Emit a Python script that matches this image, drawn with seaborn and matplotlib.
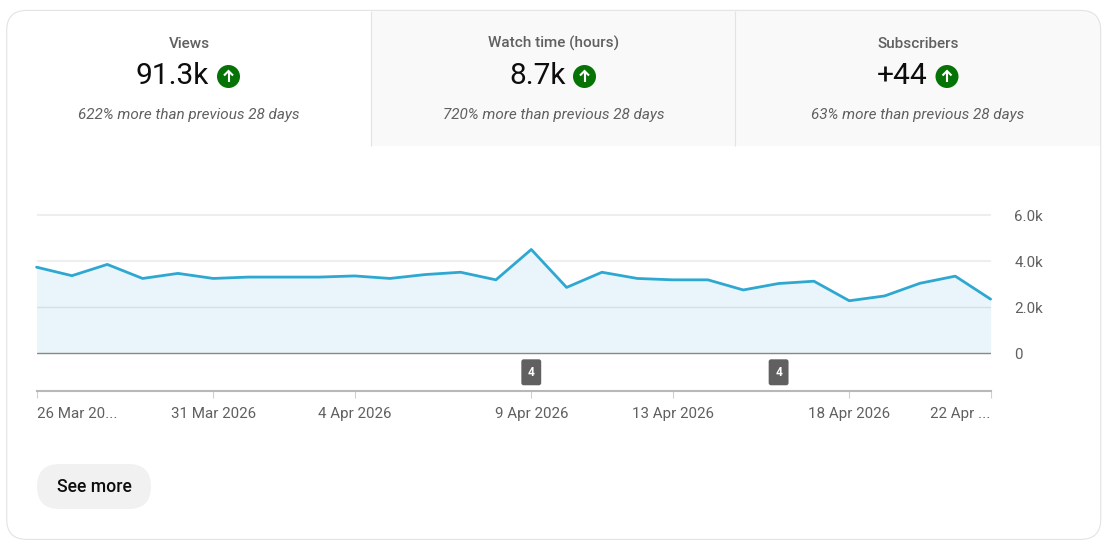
import matplotlib
matplotlib.use("Agg")
import matplotlib.pyplot as plt
import matplotlib.dates as mdates
from matplotlib.patches import FancyBboxPatch, Rectangle, Circle
import pandas as pd
import seaborn as sns

# ---- data ----
dates = pd.date_range("2026-03-26", "2026-04-22", freq="D")
views = [3740, 3370, 3860, 3250, 3470, 3250, 3310, 3310, 3310, 3360, 3250, 3420, 3520, 3190,
         4510, 2860, 3520, 3250, 3190, 3190, 2750, 3030, 3130, 2280, 2490, 3040, 3350, 2350]
tick_dates = ["2026-03-26", "2026-03-31", "2026-04-04", "2026-04-09", "2026-04-13", "2026-04-18", "2026-04-22"]
tick_labels = ["26 Mar 20...", "31 Mar 2026", "4 Apr 2026", "9 Apr 2026", "13 Apr 2026", "18 Apr 2026", "22 Apr ..."]
y_ticks = [0, 2000, 4000, 6000]
y_labels = ["0", "2.0k", "4.0k", "6.0k"]
event_dates = ["2026-04-09", "2026-04-16"]
event_counts = ["4", "4"]
metric_names = ["Views", "Watch time (hours)", "Subscribers"]
metric_values = ["91.3k", "8.7k", "+44"]
metric_notes = ["622% more than previous 28 days", "720% more than previous 28 days", "63% more than previous 28 days"]

sns.set_theme(style="white")
plt.rcParams["font.family"] = ["Roboto", "DejaVu Sans"]

W, H = 1115, 547
fig = plt.figure(figsize=(W / 100, H / 100), dpi=100, facecolor="white")

# ---- page chrome in pixel coordinates ----
bg = fig.add_axes([0, 0, 1, 1], zorder=0)
bg.set_xlim(0, W)
bg.set_ylim(H, 0)
bg.axis("off")
box = dict(boxstyle="round,pad=0,rounding_size=20")
white = FancyBboxPatch((6.7, 10.4), 1094, 529, fc="white", ec="none", zorder=1, **box)
bg.add_patch(white)
tab = Rectangle((371, 10), 730, 136, fc="#f9f9f9", ec="none", zorder=2)
bg.add_patch(tab)
tab.set_clip_path(white)
bg.add_patch(FancyBboxPatch((6.7, 10.4), 1094, 529, fc="none", ec="#e3e3e3", lw=0.8, zorder=3, **box))
for x in (370.6, 734.6):
    bg.plot([x, x], [11, 146], color="#e3e3e3", lw=0.8, zorder=3, solid_capstyle="butt")

# metric tabs
centers = [189, 553.5, 918]
icons = [228.5, 584.5, 947]
val_x = [172.5, 537.5, 902]
for name, val, note, cx, ix, vx in zip(metric_names, metric_values, metric_notes, centers, icons, val_x):
    bg.text(cx, 43.5, name, ha="center", va="center", fontsize=11, fontweight="medium",
            color="#606060", zorder=4)
    bg.text(vx, 76.5, val, ha="center", va="center", fontsize=21.5, color="#0d0d0d", zorder=4)
    bg.text(cx, 114.5, note, ha="center", va="center", fontsize=11, style="italic",
            color="#606060", zorder=4)
    bg.add_patch(Circle((ix, 76.5), 11.5, fc="#067306", ec="none", zorder=4))
    bg.plot([ix, ix], [82, 71.5], color="white", lw=1.5, zorder=5, solid_capstyle="butt")
    bg.plot([ix - 4.5, ix, ix + 4.5], [75.5, 71, 75.5], color="white", lw=1.5, zorder=5,
            solid_joinstyle="miter", solid_capstyle="butt")

# button
bg.add_patch(FancyBboxPatch((37, 464), 114, 45, boxstyle="round,pad=0,rounding_size=22.5",
                            fc="#f1f1f1", ec="none", zorder=4))
bg.text(94.5, 487.5, "See more", ha="center", va="center", fontsize=12.7, fontweight="medium",
        color="#0d0d0d", zorder=5)

# ---- chart ----
x0, x1, ytop, ybot = 36.6, 990.6, 210, 391
zero_px = 353.2
ax = fig.add_axes([x0 / W, 1 - ybot / H, (x1 - x0) / W, (ybot - ytop) / H], zorder=2)
ax.patch.set_alpha(0)
px_per_k = 23.0
ax.set_ylim(-(ybot - zero_px) / px_per_k * 1000, (zero_px - ytop) / px_per_k * 1000)
ax.set_xlim(dates[0], dates[-1])

for v in y_ticks[1:]:
    ax.axhline(v, color="#eeeeee", lw=1.5, zorder=1)
ax.axhline(2000, color="#d5e0e6", lw=1.0, zorder=3)
ax.axhline(0, color="#85898c", lw=1.0, zorder=4)

df = pd.DataFrame({"date": dates, "views": views})
ax.fill_between(df["date"], df["views"], 0, color="#e9f5fa", lw=0, zorder=2)
sns.lineplot(data=df, x="date", y="views", ax=ax, color="#2ea8d1", lw=2.0, zorder=5,
             errorbar=None, clip_on=False)
ax.set_xlabel("")
ax.set_ylabel("")

for spine in ("top", "left", "right"):
    ax.spines[spine].set_visible(False)
ax.spines["bottom"].set_color("#b8b8b8")
ax.spines["bottom"].set_linewidth(1.5)

ax.set_xticks([mdates.date2num(pd.Timestamp(d)) for d in tick_dates])
ax.set_xticklabels(tick_labels)
ax.tick_params(axis="x", bottom=True, length=5, width=0.8, color="#d0d0d0", pad=6.5,
               labelsize=10.9, labelcolor="#606060")
xl = ax.get_xticklabels()
xl[0].set_ha("left")
xl[-1].set_ha("right")

ax.yaxis.tick_right()
ax.set_yticks(y_ticks)
ax.set_yticklabels(y_labels)
ax.tick_params(axis="y", right=False, left=False, pad=11.2, labelsize=10.9, labelcolor="#606060")
for t in ax.get_yticklabels():
    t.set_va("center_baseline")

for d, c in zip(event_dates, event_counts):
    ax.text(pd.Timestamp(d), -830, c, ha="center", va="center", fontsize=8.5, fontweight="bold",
            color="white", zorder=6,
            bbox=dict(boxstyle="round,pad=0.55,rounding_size=0.2", fc="#606060", ec="none"))

fig.savefig("out.png", dpi=100, facecolor="white")
